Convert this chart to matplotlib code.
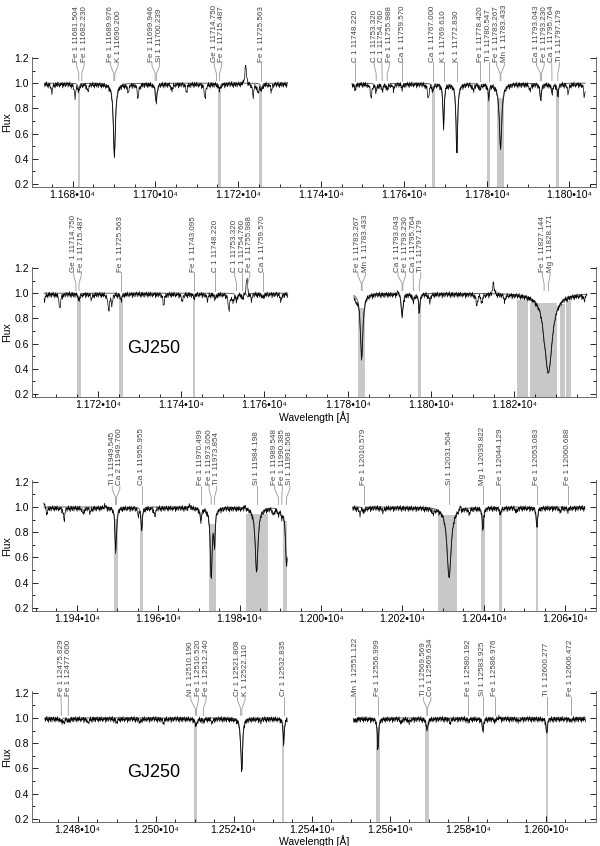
import numpy as np
import matplotlib
matplotlib.use('Agg')
import matplotlib.pyplot as plt
from matplotlib.ticker import MultipleLocator, FuncFormatter

plt.rcParams['font.family'] = ['Liberation Sans', 'DejaVu Sans']

# ---------------- row 1 ----------------
R1_XLIM = (11670.2, 11806.4)
R1_SEGMENTS = [(11673.2, 11731.9), (11747.5, 11803.8)]
R1_LINE_WL = [11681.5, 11690.1, 11700.2, 11715.5, 11725.6, 11748.2, 11753.3, 11754.8, 11756.0, 11759.6,
              11767.0, 11769.6, 11772.8, 11778.4, 11780.5, 11783.35, 11793.05, 11795.8, 11797.2]
R1_LINE_DEPTH = [0.05, 0.58, 0.15, 0.05, 0.05, 0.04, 0.06, 0.05, 0.04, 0.03,
                 0.05, 0.36, 0.58, 0.04, 0.11, 0.52, 0.12, 0.07, 0.10]
R1_LINE_WIDTH = [0.22, 0.3, 0.22, 0.22, 0.22, 0.22, 0.22, 0.22, 0.22, 0.22,
                 0.22, 0.18, 0.22, 0.22, 0.18, 0.35, 0.22, 0.22, 0.18]
R1_EXTRA_WL = [11675.0, 11680.6, 11683.7, 11693.4, 11695.8, 11704.0, 11707.5, 11712.0, 11721.8, 11723.6,
               11724.8, 11728.0, 11752.1, 11757.5, 11765.9, 11776.8, 11790.5, 11799.7, 11803.6]
R1_EXTRA_DEPTH = [0.06, 0.10, 0.06, 0.06, 0.12, 0.05, 0.06, 0.12, -0.17, 0.10,
                  0.07, 0.05, 0.11, 0.04, 0.12, 0.05, 0.05, 0.07, 0.10]
R1_IONS = ['Fe 1', 'Fe 1', 'Fe 1', 'K 1', 'Fe 1', 'Si 1', 'Ge 1', 'Fe 1', 'Fe 1', 'C 1', 'C 1', 'C 1', 'Fe 1',
           'Ca 1', 'Ca 1', 'K 1', 'K 1', 'Fe 1', 'Ti 1', 'Fe 1', 'Mn 1', 'Ca 1', 'Fe 1', 'Ca 1', 'Ti 1']
R1_LABEL_WL = [11681.504, 11682.230, 11689.976, 11690.200, 11699.946, 11700.239, 11714.750, 11715.487,
               11725.563, 11748.220, 11753.320, 11754.760, 11755.988, 11759.570, 11767.000, 11769.610,
               11772.830, 11778.420, 11780.547, 11783.267, 11783.433, 11793.043, 11793.230, 11795.764, 11797.179]
R1_BAND_LO = [11681.2, 11715.2, 11725.1, 11766.7, 11780.2, 11782.5, 11796.8]
R1_BAND_HI = [11681.8, 11715.8, 11725.7, 11767.5, 11780.8, 11784.2, 11797.5]

# ---------------- row 2 ----------------
R2_XLIM = (11704.2, 11839.6)
R2_SEGMENTS = [(11707.1, 11765.7), (11781.5, 11837.5)]
R2_LINE_WL = [11715.5, 11725.6, 11743.1, 11748.2, 11753.3, 11754.8, 11756.0, 11759.6, 11783.35, 11793.05,
              11793.23, 11795.76, 11797.18, 11827.14, 11828.17]
R2_LINE_DEPTH = [0.05, 0.05, 0.03, 0.04, 0.05, 0.04, 0.03, 0.03, 0.52, 0.17,
                 0.03, 0.06, 0.15, 0.06, 0.63]
R2_LINE_WIDTH = [0.22, 0.22, 0.22, 0.22, 0.22, 0.22, 0.22, 0.22, 0.35, 0.22,
                 0.22, 0.22, 0.18, 0.3, 1.1]
R2_EXTRA_WL = [11707.2, 11710.9, 11718.5, 11722.6, 11723.4, 11735.8, 11740.3, 11746.3, 11751.5, 11752.4,
               11755.8, 11756.9, 11764.0, 11782.0, 11792.1, 11799.7, 11811.0, 11812.2, 11815.0, 11817.7, 11836.8]
R2_EXTRA_DEPTH = [0.05, 0.12, 0.04, 0.13, 0.08, 0.09, 0.06, 0.05, 0.14, 0.06,
                  -0.16, 0.05, 0.05, 0.05, -0.04, 0.06, 0.09, 0.07, -0.10, 0.05, 0.04]
R2_IONS = ['Ge 1', 'Fe 1', 'Fe 1', 'Fe 1', 'C 1', 'C 1', 'C 1', 'Fe 1', 'Ca 1', 'Fe 1', 'Mn 1',
           'Ca 1', 'Fe 1', 'Ca 1', 'Ti 1', 'Fe 1', 'Mg 1']
R2_LABEL_WL = [11714.750, 11715.487, 11725.563, 11743.095, 11748.220, 11753.320, 11754.760, 11755.988,
               11759.570, 11783.267, 11783.433, 11793.043, 11793.230, 11795.764, 11797.179, 11827.144, 11828.171]
R2_BAND_LO = [11715.1, 11725.1, 11742.8, 11782.5, 11796.9, 11820.6, 11823.8, 11831.0, 11832.5]
R2_BAND_HI = [11715.9, 11726.0, 11743.4, 11784.2, 11797.5, 11823.2, 11830.2, 11832.2, 11833.6]

# ---------------- row 3 ----------------
R3_XLIM = (11929.0, 12067.6)
R3_SEGMENTS = [(11931.9, 11991.8), (12007.8, 12064.9)]
R3_LINE_WL = [11949.55, 11949.76, 11955.96, 11970.5, 11973.05, 11973.85, 11984.2, 11989.55, 11990.39, 11991.57,
              12010.58, 12031.5, 12039.82, 12044.13, 12053.08, 12060.69]
R3_LINE_DEPTH = [0.32, 0.10, 0.19, 0.10, 0.58, 0.30, 0.52, 0.04, 0.05, 0.47,
                 0.03, 0.56, 0.19, 0.05, 0.17, 0.02]
R3_LINE_WIDTH = [0.18, 0.18, 0.18, 0.22, 0.27, 0.18, 0.4, 0.22, 0.22, 0.3,
                 0.22, 0.6, 0.18, 0.22, 0.18, 0.22]
R3_EXTRA_WL = [11932.0, 11932.6, 11936.9, 11941.6, 11943.3, 11946.9, 11955.1, 11959.2, 11967.8, 11981.3,
               11988.3, 12009.6, 12015.3, 12027.6, 12034.2, 12036.4, 12048.1, 12058.7]
R3_EXTRA_DEPTH = [-0.05, 0.05, 0.10, 0.05, 0.04, -0.03, 0.05, 0.07, -0.03, -0.03,
                  0.05, 0.05, 0.03, 0.04, -0.04, 0.04, 0.03, 0.03]
R3_IONS = ['Ti 1', 'Ca 2', 'Ca 1', 'Fe 1', 'Fe 1', 'Ti 1', 'Si 1', 'Fe 1', 'Fe 1', 'Si 1',
           'Fe 1', 'Si 1', 'Mg 1', 'Fe 1', 'Fe 1', 'Fe 1']
R3_LABEL_WL = [11949.545, 11949.760, 11955.955, 11970.499, 11973.050, 11973.854, 11984.198, 11989.548,
               11990.385, 11991.568, 12010.579, 12031.504, 12039.822, 12044.129, 12053.083, 12060.688]
R3_BAND_LO = [11949.2, 11955.5, 11972.6, 11981.5, 11990.7, 12028.7, 12039.3, 12043.7, 12052.8]
R3_BAND_HI = [11950.1, 11956.2, 11974.2, 11986.9, 11991.7, 12033.5, 12040.3, 12044.4, 12053.4]

# ---------------- row 4 ----------------
R4_XLIM = (12468.3, 12612.9)
R4_SEGMENTS = [(12471.6, 12533.8), (12550.7, 12610.3)]
R4_LINE_WL = [12475.83, 12477.6, 12510.19, 12510.52, 12512.24, 12521.81, 12522.11, 12532.84, 12551.12,
              12557.0, 12569.57, 12569.63, 12580.19, 12583.93, 12586.98, 12600.28, 12606.47]
R4_LINE_DEPTH = [0.02, 0.02, 0.03, 0.04, 0.02, 0.10, 0.42, 0.21, 0.02,
                 0.26, 0.06, 0.04, 0.02, 0.11, 0.02, 0.13, 0.02]
R4_LINE_WIDTH = [0.22, 0.22, 0.22, 0.22, 0.22, 0.2, 0.22, 0.17, 0.22,
                 0.18, 0.22, 0.22, 0.22, 0.18, 0.22, 0.18, 0.22]
R4_EXTRA_WL = [12476.5, 12482.7, 12490.0, 12496.0, 12502.0, 12514.5, 12527.0, 12563.0, 12565.0,
               12575.5, 12588.0, 12593.0]
R4_EXTRA_DEPTH = [0.03, 0.04, 0.03, 0.03, 0.03, 0.03, 0.02, 0.03, 0.03, 0.03, -0.02, 0.02]
R4_IONS = ['Fe 1', 'Fe 1', 'Ni 1', 'Fe 1', 'Fe 1', 'Cr 1', 'K 1', 'Cr 1', 'Mn 1', 'Fe 1', 'Ti 1',
           'Co 1', 'Fe 1', 'Si 1', 'Fe 1', 'Ti 1', 'Fe 1']
R4_LABEL_WL = [12475.829, 12477.600, 12510.190, 12510.520, 12512.240, 12521.808, 12522.110, 12532.835,
               12551.122, 12556.999, 12569.569, 12569.634, 12580.192, 12583.925, 12586.976, 12600.277, 12606.472]
R4_BAND_LO = [12509.9, 12532.3, 12556.5, 12569.1, 12600.0]
R4_BAND_HI = [12510.7, 12533.0, 12557.4, 12570.0, 12600.7]

# pixel-to-pixel scatter of the observed spectrum (estimated from the plot)
RIPPLE = [0.006, -0.019, 0.013, -0.005, 0.024, -0.014, 0.003, -0.026, 0.016, -0.008, 0.019, -0.018,
          0.002, 0.014, -0.022, 0.010, -0.003, 0.021, -0.013, 0.005, -0.024, 0.018, -0.010, 0.011,
          -0.016, 0.022, -0.006, 0.000, -0.021, 0.014, -0.011, 0.008, -0.002, 0.019, -0.027, 0.010,
          -0.014, 0.016, 0.003, -0.019, 0.013, -0.006, 0.021]

ROWS = [
    (R1_XLIM, R1_SEGMENTS, R1_LINE_WL, R1_LINE_DEPTH, R1_LINE_WIDTH, R1_EXTRA_WL, R1_EXTRA_DEPTH,
     R1_IONS, R1_LABEL_WL, R1_BAND_LO, R1_BAND_HI),
    (R2_XLIM, R2_SEGMENTS, R2_LINE_WL, R2_LINE_DEPTH, R2_LINE_WIDTH, R2_EXTRA_WL, R2_EXTRA_DEPTH,
     R2_IONS, R2_LABEL_WL, R2_BAND_LO, R2_BAND_HI),
    (R3_XLIM, R3_SEGMENTS, R3_LINE_WL, R3_LINE_DEPTH, R3_LINE_WIDTH, R3_EXTRA_WL, R3_EXTRA_DEPTH,
     R3_IONS, R3_LABEL_WL, R3_BAND_LO, R3_BAND_HI),
    (R4_XLIM, R4_SEGMENTS, R4_LINE_WL, R4_LINE_DEPTH, R4_LINE_WIDTH, R4_EXTRA_WL, R4_EXTRA_DEPTH,
     R4_IONS, R4_LABEL_WL, R4_BAND_LO, R4_BAND_HI),
]
STAR_ROWS = [1, 3]   # rows that carry the star name and the x label
YMIN, YMAX = 0.175, 1.21


def profile(wave, centers, depths, widths):
    flux = np.ones_like(wave)
    for c, d, w in zip(centers, depths, widths):
        flux *= 1 - d / (1 + ((wave - c) / w) ** 2)
    return flux


def spread(positions, sep):
    # push label positions apart so that neighbours are at least `sep` apart
    groups = [[p] for p in sorted(positions)]
    while True:
        placed = []
        for g in groups:
            c = np.mean(g)
            placed.append([c + (k - (len(g) - 1) / 2) * sep for k in range(len(g))])
        merged = False
        for i in range(len(groups) - 1):
            if placed[i][-1] + sep > placed[i + 1][0] + 1e-9:
                groups[i] = groups[i] + groups[i + 1]
                del groups[i + 1]
                merged = True
                break
        if not merged:
            return [p for grp in placed for p in grp]


fig = plt.figure(figsize=(6.0, 8.46), dpi=100)
bottoms = [0.7787, 0.5305, 0.2778, 0.0284]
tick_fmt = FuncFormatter(lambda v, p: f"{v / 1e4:.3f}\u202210\u2074")

for i, (xlim, segs, lwl, ldep, lwid, xwl, xdep, ions, lab_wl, blo, bhi) in enumerate(ROWS):
    ax = fig.add_axes([0.0533, bottoms[i], 0.94, 0.1543])

    for lo, hi in zip(blo, bhi):
        edge = profile(np.array([lo, hi]), lwl, ldep, lwid).max() * 0.99
        ax.fill_between([lo, hi], YMIN, edge - 0.03, color='#c8c8c8', lw=0, zorder=1)

    for lo, hi in segs:
        w = np.arange(lo, hi, 0.13)
        model = profile(w, lwl, ldep, lwid)
        obs = 0.99 * model * profile(w, xwl, xdep, [0.2] * len(xwl)) * (1 + np.resize(RIPPLE, w.size))
        ax.plot(w, model, color='#666666', lw=0.7, zorder=2)
        ax.plot(w, obs, color='black', lw=0.5, zorder=3)

    # line identifications
    sep = 7.6 * (xlim[1] - xlim[0]) / 564
    order = np.argsort(lab_wl)
    text_x = spread([lab_wl[k] for k in order], sep)
    for k, xt in zip(order, text_x):
        xl = lab_wl[k]
        ax.plot([xt, xt, xl, xl], [1.165, 1.14, 1.075, 1.02], color='#999999', lw=0.6,
                clip_on=False, zorder=4)
        ax.text(xt, 1.17, f"{ions[k]} {xl:.3f}", rotation=90, ha='center', va='bottom',
                fontsize=5.8, color='#444444', clip_on=False)

    ax.set_xlim(*xlim)
    ax.set_ylim(YMIN, YMAX)
    ax.xaxis.set_major_locator(MultipleLocator(20))
    ax.xaxis.set_minor_locator(MultipleLocator(5))
    ax.xaxis.set_major_formatter(tick_fmt)
    ax.set_yticks([0.2, 0.4, 0.6, 0.8, 1.0, 1.2])
    ax.yaxis.set_minor_locator(MultipleLocator(0.1))
    ax.tick_params(which='both', direction='in', top=False, right=True, labelsize=7.5, width=0.6)
    ax.tick_params(which='major', length=4, pad=2)
    ax.tick_params(which='minor', length=2.5)
    ax.spines['top'].set_visible(False)
    for s in ['left', 'right', 'bottom']:
        ax.spines[s].set_linewidth(0.6)
        ax.spines[s].set_color('#555555')
    ax.set_ylabel('Flux', fontsize=7.5, labelpad=1.5)

    if i in STAR_ROWS:
        ax.set_xlabel('Wavelength [Å]', fontsize=7.5, labelpad=0.5)
        star_x = xlim[0] + 0.215 * (xlim[1] - xlim[0])
        ax.text(star_x, 0.565, 'GJ250', fontsize=13, ha='center', va='center')

fig.savefig('out.png', dpi=100)
